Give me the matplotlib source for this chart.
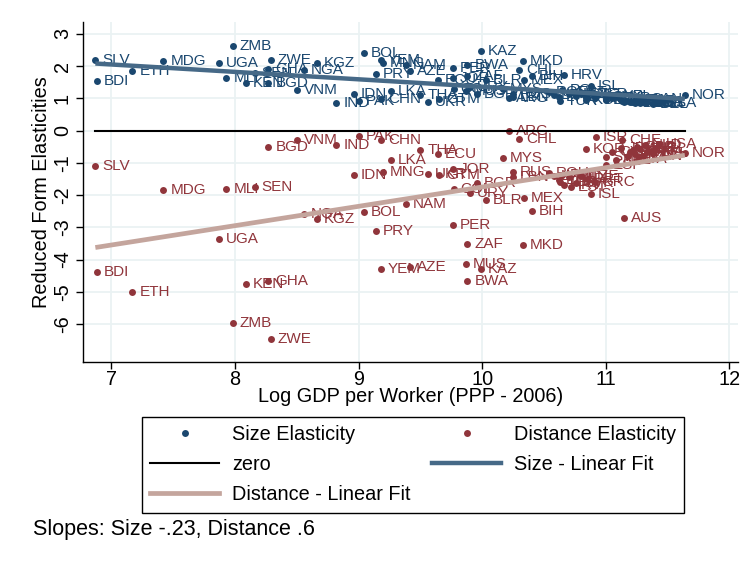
import matplotlib
matplotlib.use("Agg")
import matplotlib.pyplot as plt
from matplotlib.lines import Line2D
import numpy as np

plt.rcParams['font.family'] = ['Liberation Sans', 'DejaVu Sans']
plt.rcParams['axes.unicode_minus'] = False

# country codes, log GDP per worker and the two reduced form elasticities
countries = ['SLV', 'BDI', 'ETH', 'MDG', 'UGA', 'MLI', 'ZMB', 'KEN', 'SEN', 'GHA',
             'BGD', 'ZWE', 'VNM', 'NGA', 'KGZ', 'IND', 'IDN', 'PAK', 'BOL', 'PRY',
             'YEM', 'CHN', 'MNG', 'LKA', 'NAM', 'AZE', 'THA', 'UKR', 'ECU', 'GTM',
             'PER', 'JOR', 'COL', 'ZAF', 'MUS', 'BWA', 'URY', 'BGR', 'KAZ', 'BLR',
             'MYS', 'ARG', 'RUS', 'LBN', 'CHL', 'MKD', 'MEX', 'BIH', 'ROU', 'LVA',
             'TUR', 'POL', 'HRV', 'LTU', 'HUN', 'EST', 'SVK', 'CZE', 'KOR', 'PRT',
             'ISL', 'GRC', 'ISR', 'ESP', 'SVN', 'CYP', 'NZL', 'JPN', 'CHE', 'AUS',
             'FIN', 'SWE', 'DNK', 'DEU', 'GBR', 'ITA', 'AUT', 'CAN', 'NLD', 'FRA',
             'BEL', 'IRL', 'USA', 'NOR']
log_gdp = [6.87, 6.88, 7.17, 7.42, 7.87, 7.93, 7.98, 8.09, 8.16, 8.27,
           8.27, 8.29, 8.50, 8.56, 8.66, 8.82, 8.96, 9.00, 9.04, 9.14,
           9.18, 9.18, 9.20, 9.26, 9.38, 9.42, 9.50, 9.56, 9.64, 9.65,
           9.76, 9.76, 9.77, 9.88, 9.87, 9.88, 9.90, 9.96, 9.99, 10.03,
           10.17, 10.22, 10.25, 10.25, 10.30, 10.33, 10.34, 10.40, 10.54, 10.58,
           10.63, 10.65, 10.66, 10.62, 10.70, 10.72, 10.76, 10.80, 10.84, 10.85,
           10.88, 10.91, 10.92, 11.00, 11.00, 11.05, 11.08, 11.12, 11.13, 11.15,
           11.18, 11.20, 11.22, 11.24, 11.25, 11.26, 11.28, 11.30, 11.32, 11.33,
           11.38, 11.40, 11.43, 11.64]
size_elast = [2.18, 1.55, 1.84, 2.15, 2.10, 1.64, 2.62, 1.48, 1.80, 1.92,
              1.49, 2.18, 1.27, 1.89, 2.10, 0.86, 1.12, 0.91, 2.41, 1.74,
              2.20, 0.98, 2.10, 1.24, 2.05, 1.84, 1.10, 0.88, 1.58, 0.99,
              1.95, 1.64, 1.30, 1.69, 1.22, 2.03, 1.35, 1.12, 2.46, 1.58,
              1.30, 1.02, 1.15, 1.05, 1.89, 2.15, 1.56, 1.69, 1.20, 1.10,
              0.93, 1.27, 1.72, 1.05, 1.15, 1.20, 1.08, 1.12, 0.96, 1.02,
              1.38, 1.02, 1.12, 0.96, 1.05, 1.00, 1.06, 0.95, 0.93, 0.90,
              0.92, 0.88, 0.90, 0.86, 0.92, 0.95, 0.87, 0.98, 0.85, 0.90,
              0.84, 0.88, 0.87, 1.09]
dist_elast = [-1.11, -4.40, -5.01, -1.85, -3.36, -1.80, -5.97, -4.75, -1.75, -4.68,
              -0.52, -6.46, -0.30, -2.58, -2.73, -0.46, -1.39, -0.18, -2.52, -3.11,
              -4.29, -0.28, -1.28, -0.92, -2.28, -4.24, -0.59, -1.34, -0.72, -1.37,
              -2.94, -1.18, -1.80, -3.52, -4.13, -4.68, -1.94, -1.63, -4.29, -2.14,
              -0.85, -0.02, -1.30, -1.43, -0.25, -3.56, -2.09, -2.51, -1.31, -1.42,
              -1.58, -1.37, -1.68, -1.52, -1.45, -1.75, -1.62, -1.40, -0.57, -1.50,
              -1.96, -1.58, -0.20, -1.06, -0.82, -0.65, -0.90, -0.55, -0.30, -2.71,
              -0.78, -0.68, -0.60, -0.72, -0.50, -0.88, -0.58, -0.80, -0.45, -0.66,
              -0.70, -0.55, -0.43, -0.69]

# OLS slopes reported in the note
size_slope = -0.23
dist_slope = 0.6

navy = '#1a476f'
maroon = '#90353b'
size_fit_col = '#466987'
dist_fit_col = '#c4a59d'
fs = 14.3
ms = 5.0

x = np.array(log_gdp)
ys = np.array(size_elast)
yd = np.array(dist_elast)

fig = plt.figure(figsize=(7.49, 5.63), dpi=100)
ax = fig.add_axes([0.1108, 0.357, 0.8745, 0.604])

ax.plot(x, ys, ls='none', marker='o', ms=ms, mew=0, color=navy, zorder=3)
ax.plot(x, yd, ls='none', marker='o', ms=ms, mew=0, color=maroon, zorder=3)
for name, xi, a, b in zip(countries, x, ys, yd):
    ax.annotate(name, (xi, a), xytext=(5, 0), textcoords='offset points',
                va='center', ha='left', fontsize=11, color=navy, zorder=3)
    ax.annotate(name, (xi, b), xytext=(5, 0), textcoords='offset points',
                va='center', ha='left', fontsize=11, color=maroon, zorder=3)

xr = np.array([x.min(), x.max()])
ax.plot(xr, [0, 0], color='black', lw=1.5, zorder=4)

# fitted lines go through the sample means
size_fit = ys.mean() + size_slope * (xr - x.mean())
dist_fit = yd.mean() + dist_slope * (xr - x.mean())
ax.plot(xr, size_fit, color=size_fit_col, lw=3.2, solid_capstyle='butt', zorder=5)
ax.plot(xr, dist_fit, color=dist_fit_col, lw=3.4, solid_capstyle='butt', zorder=5)

ax.set_xlim(6.77, 12.07)
ax.set_ylim(-7.18, 3.37)
ax.set_xticks(range(7, 13))
ax.set_yticks(range(-6, 4))
ax.grid(True, color='#eaf2f3', lw=1.3)
ax.set_axisbelow(True)
for s in ['top', 'right']:
    ax.spines[s].set_visible(False)
for s in ['left', 'bottom']:
    ax.spines[s].set_color('black')
    ax.spines[s].set_linewidth(1)
ax.tick_params(direction='out', length=5, width=1, labelsize=fs)
ax.tick_params(axis='x', pad=1)
ax.tick_params(axis='y', pad=3)
for lab in ax.get_yticklabels():
    lab.set_rotation(90)
    lab.set_va('center')
ax.set_xlabel('Log GDP per Worker (PPP - 2006)', fontsize=fs, labelpad=-2)
ax.set_ylabel('Reduced Form Elasticities', fontsize=fs, labelpad=1)

handles = [
    Line2D([], [], ls='none', marker='o', ms=ms, mew=0, color=navy),
    Line2D([], [], color='black', lw=1.5),
    Line2D([], [], color=dist_fit_col, lw=3.4),
    Line2D([], [], ls='none', marker='o', ms=ms, mew=0, color=maroon),
    Line2D([], [], color=size_fit_col, lw=3.2),
]
labels = ['Size Elasticity', 'zero', 'Distance - Linear Fit',
          'Distance Elasticity', 'Size - Linear Fit']
leg = fig.legend(handles, labels, ncol=2, loc='upper left',
                 bbox_to_anchor=(142 / 749, 1 - 417 / 563), borderaxespad=0,
                 fontsize=fs, frameon=True, fancybox=False, edgecolor='black',
                 framealpha=1, handlelength=3.47, handletextpad=0.63,
                 columnspacing=1.1, labelspacing=0.55, borderpad=0.42, numpoints=1)
leg.get_frame().set_linewidth(1)


def short(v):
    return ('%g' % v).replace('0.', '.')


fig.text(33 / 749, 1 - 529 / 563,
         'Slopes: Size %s, Distance %s' % (short(size_slope), short(dist_slope)),
         fontsize=15.5, va='center', ha='left')

fig.savefig('out.png', dpi=100)
